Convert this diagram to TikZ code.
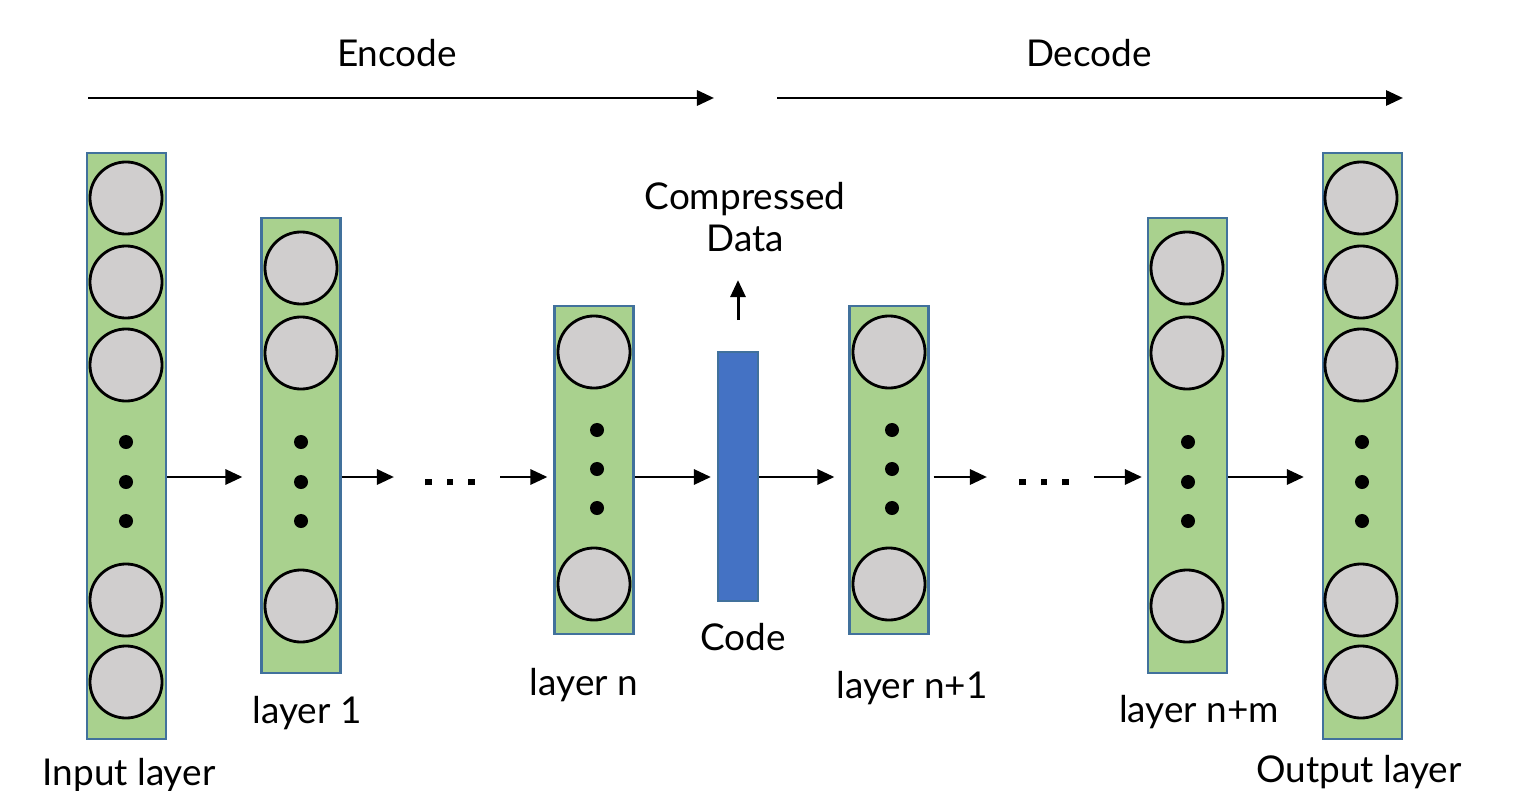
\documentclass[tikz,border=0pt]{standalone}
\usepackage{fontspec}
\setmainfont{Lato}
\usetikzlibrary{arrows.meta}

\definecolor{boxgreen}{HTML}{A9D18E}
\definecolor{boxblue}{HTML}{41719C}
\definecolor{unitgray}{HTML}{D0CECE}
\definecolor{codeblue}{HTML}{4472C4}

\newcommand{\sq}{\rule{0.65mm}{0.65mm}}

\tikzset{
  layerbox/.style={draw=boxblue, fill=boxgreen, line width=0.6pt, minimum width=0.79cm, inner sep=0pt},
  unit/.style={shape=circle, draw=black, fill=unitgray, minimum size=0.72cm, inner sep=0pt, line width=0.8pt},
  dot/.style={shape=circle, fill=black, minimum size=0.14cm, inner sep=0pt},
  skip/.style={minimum width=0.97cm, inner sep=0pt},
  lbl/.style={font=\fontsize{10.5}{12}\selectfont}
}

\begin{document}
\begin{tikzpicture}[x=0.01cm, y=-0.01cm, line width=0.85pt, >={Triangle[length=1.7mm,width=1.5mm]}]
    \useasboundingbox (0,0) rectangle (1521,791);

    % layers
    \node[layerbox, minimum height=5.86cm] at (126.5,446) (inp) {};
    \node[layerbox, minimum height=4.55cm] at (301,445.5) (l1) {};
    \node[layerbox, minimum height=3.28cm] at (594,470) (ln) {};
    \node[draw=boxblue, fill=codeblue, line width=0.6pt, minimum width=0.40cm, minimum height=2.49cm, inner sep=0pt] at (738,476.5) (code) {};
    \node[layerbox, minimum height=3.28cm] at (889,470) (ln1) {};
    \node[layerbox, minimum height=4.55cm] at (1187.5,445.5) (lnm) {};
    \node[layerbox, minimum height=5.86cm] at (1362.5,446) (outp) {};

    % units
    \foreach \y in {198,282,365,600,682} {
        \node[unit] at (126,\y) (inp-\y) {};
        \node[unit] at (1361,\y) (outp-\y) {};
    }
    \foreach \y in {268,353,606} {
        \node[unit] at (301,\y) (l1-\y) {};
        \node[unit] at (1187,\y) (lnm-\y) {};
    }
    \foreach \y in {352,584} {
        \node[unit] at (594,\y) (ln-\y) {};
        \node[unit] at (889,\y) (ln1-\y) {};
    }
    \foreach \y in {442,482,521} {
        \node[dot] at (126,\y) (inp-d\y) {};
        \node[dot] at (301,\y) (l1-d\y) {};
        \node[dot] at (1188,\y) (lnm-d\y) {};
        \node[dot] at (1362,\y) (outp-d\y) {};
    }
    \foreach \y in {430,469,508} {
        \node[dot] at (597,\y) (ln-d\y) {};
        \node[dot] at (892,\y) (ln1-d\y) {};
    }

    % skipped layers
    \node[skip] at (450,482) (skip1) {\sq\hspace{1.5mm}\sq\hspace{1.5mm}\sq};
    \node[skip] at (1044,482) (skip2) {\sq\hspace{1.5mm}\sq\hspace{1.5mm}\sq};

    % forward arrows
    \coordinate (mid) at (0,477);
    \draw[->, shorten >=0.18cm] (inp.east |- mid) -- (l1.west |- mid);
    \draw[->, shorten >=0.06cm] (l1.east |- mid) -- (skip1.west |- mid);
    \draw[->, shorten >=0.06cm] (skip1.east |- mid) -- (ln.west |- mid);
    \draw[->, shorten >=0.06cm] (ln.east |- mid) -- (code.west |- mid);
    \draw[->, shorten >=0.14cm] (code.east |- mid) -- (ln1.west |- mid);
    \draw[->, shorten <=0.04cm, shorten >=0.07cm] (ln1.east |- mid) -- (skip2.west |- mid);
    \draw[->, shorten >=0.05cm] (skip2.east |- mid) -- (lnm.west |- mid);
    \draw[->, shorten >=0.18cm] (lnm.east |- mid) -- (outp.west |- mid);

    % encode / decode
    \coordinate (enc-a) at (88,98);
    \coordinate (enc-b) at (714,98);
    \coordinate (dec-a) at (777,98);
    \coordinate (dec-b) at (1403,98);
    \draw[->] (enc-a) -- (enc-b);
    \draw[->] (dec-a) -- (dec-b);
    \node[lbl] at (397,53) (enc) {Encode};
    \node[lbl] at (1089,53) (dec) {Decode};

    % compressed data
    \node[lbl, align=center] at (745,217) (comp) {Compressed\\Data};
    \coordinate (cd-foot) at (738,320);
    \draw[->, shorten >=0.15cm] (cd-foot) -- (cd-foot |- comp.south);

    % labels
    \node[lbl] at (743,637) (code-lbl) {Code};
    \node[lbl] at (129,775) (inp-lbl) {Input layer};
    \node[lbl] at (307,713) (l1-lbl) {layer 1};
    \node[lbl] at (584,685) (ln-lbl) {layer n};
    \node[lbl] at (912,688) (ln1-lbl) {layer n+1};
    \node[lbl] at (1199,712) (lnm-lbl) {layer n+m};
    \node[lbl] at (1359,772) (outp-lbl) {Output layer};
\end{tikzpicture}
\end{document}
